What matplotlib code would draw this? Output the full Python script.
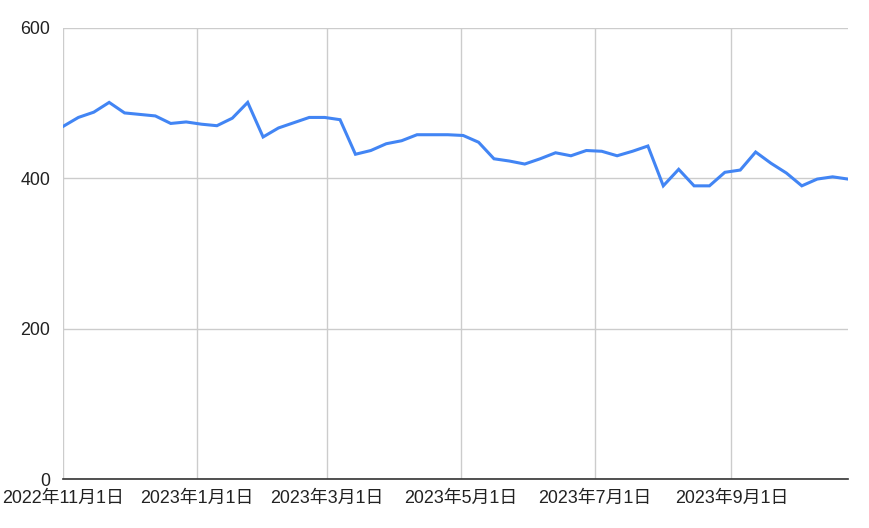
import numpy as np
import pandas as pd
import matplotlib
matplotlib.use("Agg")
import matplotlib.pyplot as plt
import matplotlib.dates as mdates

plt.rcParams['font.family'] = ['Liberation Sans', 'Noto Sans CJK JP', 'DejaVu Sans']

# weekly readings
dates = pd.date_range('2022-11-01', periods=52, freq='7D')
values = [469, 481, 488, 501, 487, 485, 483, 473, 475, 472,
          470, 480, 501, 455, 467, 474, 481, 481, 478, 432,
          437, 446, 450, 458, 458, 458, 457, 448, 426, 423,
          419, 426, 434, 430, 437, 436, 430, 436, 443, 390,
          412, 390, 390, 408, 411, 435, 420, 407, 390, 399,
          402, 399]

tick_dates = pd.to_datetime(['2022-11-01', '2023-01-01', '2023-03-01',
                             '2023-05-01', '2023-07-01', '2023-09-01'])
tick_labels = ['2022年11月1日', '2023年1月1日', '2023年3月1日',
               '2023年5月1日', '2023年7月1日', '2023年9月1日']
y_ticks = [0, 200, 400, 600]

fig = plt.figure(figsize=(8.7, 5.28), dpi=100)
ax = fig.add_axes([0.0724, 0.0928, 0.9023, 0.8542])

ax.plot(dates, values, color='#4285F4', linewidth=2.2, solid_joinstyle='miter')

ax.set_xlim(dates[0], dates[-1])
ax.set_ylim(0, 600)
ax.set_xticks(tick_dates)
ax.set_xticklabels(tick_labels)
ax.set_yticks(y_ticks)
ax.set_yticklabels([str(v) for v in y_ticks])

ax.grid(True, color='#cccccc', linewidth=1)
ax.set_axisbelow(True)
ax.tick_params(length=0, labelsize=12.9, colors='#222222')
ax.tick_params(axis='y', pad=9)
ax.tick_params(axis='x', pad=7.5)

for side in ['top', 'right', 'left']:
    ax.spines[side].set_visible(False)
ax.spines['bottom'].set_color('#333333')
ax.spines['bottom'].set_linewidth(1.2)

fig.savefig('out.png', dpi=100)
